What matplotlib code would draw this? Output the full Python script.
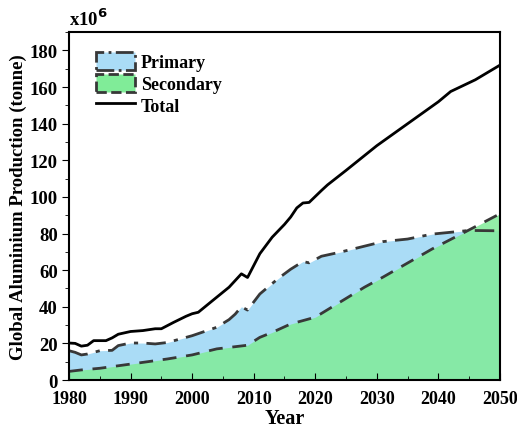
import matplotlib
matplotlib.use("Agg")
from matplotlib import pyplot as plt
from matplotlib.patches import Patch
from matplotlib.lines import Line2D
from matplotlib.ticker import MultipleLocator

# values (x10^6 tonne)
total_years = [1980, 1981, 1982, 1983, 1984, 1986, 1987, 1988, 1990, 1992, 1994, 1995,
               1997, 1999, 2000, 2001, 2003, 2006, 2008, 2009, 2011, 2013, 2015, 2016,
               2017, 2018, 2019, 2021, 2022, 2025, 2030, 2035, 2040, 2042, 2046, 2050]
total = [20.2, 20, 18.5, 19, 21.5, 21.5, 23, 25, 26.5, 27, 28, 28,
         31.5, 34.8, 36.2, 37, 42.5, 50.7, 58, 56, 69, 78, 85, 89,
         94, 96.7, 97, 103.5, 106.6, 114.5, 128, 140, 152, 157.6, 164, 172]

primary_years = [1980, 1981, 1982, 1983, 1985, 1987, 1988, 1990, 1992, 1994, 1996, 2000,
                 2004, 2006, 2007, 2008, 2009, 2011, 2014, 2016, 2018, 2019, 2021, 2024,
                 2031, 2035, 2039, 2045, 2050]
primary = [16, 15.1, 13.7, 14.2, 16, 16.2, 18.8, 20.2, 20.2, 19.7, 20.5, 24.2,
           28.8, 33, 36, 40, 38.2, 47, 55.5, 60.5, 64.7, 64, 67.6, 69.8,
           75.6, 77, 79.7, 81.7, 81.5]

secondary_years = [1980, 1982, 1985, 1990, 1996, 2000, 2004, 2009, 2011, 2013, 2016, 2020,
                   2028, 2031, 2039, 2045, 2050]
secondary = [4.7, 5.5, 6.4, 8.7, 11.5, 13.7, 17, 19, 23.3, 26, 30.6, 34.3,
             50.7, 56.2, 71.6, 82, 90.8]

blue = "#aadcf6"
green = "#80ec98"
edge = "#383838"

plt.rcParams["font.family"] = ["Liberation Serif", "DejaVu Serif"]
plt.rcParams["font.weight"] = "bold"

fig = plt.figure(figsize=(5.17, 4.31), dpi=100)
ax = fig.add_axes([0.1335, 0.116, 0.8335, 0.807])

ax.fill_between(primary_years, 0, primary, color=blue, lw=0)
ax.plot(primary_years, primary, color=edge, lw=2, ls=(0, (7, 3, 1.5, 3)))
ax.fill_between(secondary_years, 0, secondary, color=green, alpha=0.85, lw=0)
ax.plot(secondary_years, secondary, color=edge, lw=2, ls=(0, (5, 3.5)))
ax.plot(total_years, total, color="black", lw=2)

ax.set_xlim(1980, 2050)
ax.set_ylim(0, 190)
ax.xaxis.set_major_locator(MultipleLocator(10))
ax.xaxis.set_minor_locator(MultipleLocator(5))
ax.yaxis.set_major_locator(MultipleLocator(20))
ax.yaxis.set_minor_locator(MultipleLocator(10))
ax.tick_params(axis="x", which="both", direction="in", labelsize=13, pad=7)
ax.tick_params(axis="x", which="major", length=5)
ax.tick_params(axis="x", which="minor", length=3)
ax.tick_params(axis="y", which="both", direction="out", labelsize=13.5, pad=3)
ax.tick_params(axis="y", which="major", length=5)
ax.tick_params(axis="y", which="minor", length=3)
for s in ax.spines.values():
    s.set_linewidth(1.5)

ax.set_xlabel("Year", fontsize=14.5, fontweight="bold", labelpad=1)
ax.set_ylabel("Global Aluminium Production (tonne)", fontsize=13.5,
              fontweight="bold", labelpad=2)
ax.text(0.0, 1.01, r"x10$^{6}$", transform=ax.transAxes, fontsize=13.5,
        fontweight="bold", ha="left", va="bottom")

handles = [
    Patch(facecolor=blue, edgecolor=edge, lw=2, ls="-."),
    Patch(facecolor=green, edgecolor=edge, lw=2, ls="--"),
    Line2D([], [], color="black", lw=2),
]
ax.legend(handles, ["Primary", "Secondary", "Total"], loc="upper left",
          bbox_to_anchor=(0.045, 0.965), frameon=False, fontsize=13,
          handlelength=2.2, handleheight=1.2, handletextpad=0.3, labelspacing=0.15,
          borderaxespad=0)

fig.savefig("out.png", dpi=100)
